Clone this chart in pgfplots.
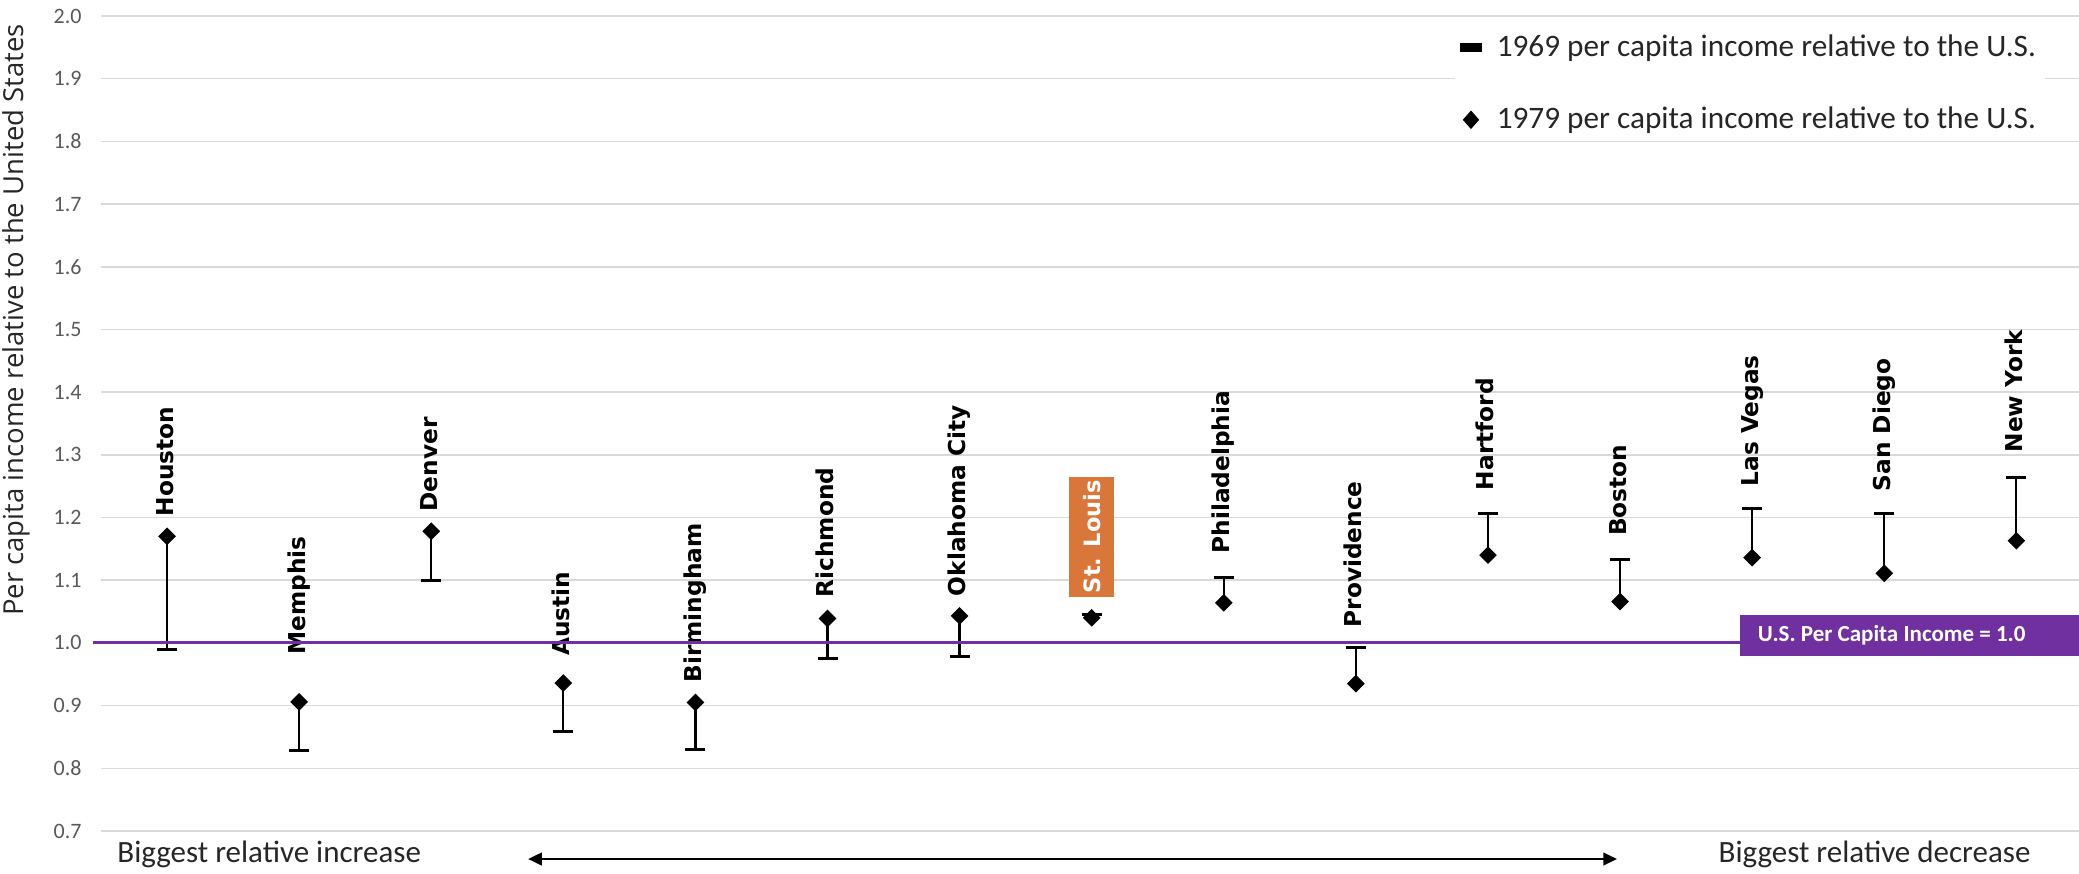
\documentclass[border=0pt]{standalone}
\usepackage{pgfplots}
\pgfplotsset{compat=1.18}
\usepackage{fontspec}
\setmainfont{Carlito}
\newfontfamily\dvs{DejaVu Sans}
\newfontfamily\osans{Open Sans}
\usetikzlibrary{arrows.meta}
\definecolor{usp}{HTML}{7030A0}
\definecolor{stl}{HTML}{D9773A}
\definecolor{gridc}{HTML}{D9D9D9}
\definecolor{tickc}{HTML}{595959}
\definecolor{txt}{HTML}{262626}
\begin{document}
\begin{tikzpicture}
\begin{axis}[
  scale only axis, width=791.5pt, height=326pt,
  xmin=-0.5, xmax=14.48, ymin=0.7, ymax=2.0,
  clip=false,
  axis line style={draw=none},
  xtick=\empty,
  ytick={0.7,0.8,0.9,1.0,1.1,1.2,1.3,1.4,1.5,1.6,1.7,1.8,1.9,2.0},
  ymajorgrids, major grid style={gridc, line width=0.6pt},
  major tick length=0pt, tick style={draw=none},
  yticklabel style={font=\fontsize{8.8}{9}\selectfont, text=tickc, inner sep=0pt, xshift=-7.6pt},
  /pgf/number format/.cd, fixed, fixed zerofill, precision=1, assume math mode=true,
  /pgfplots/.cd,
  ylabel={Per capita income relative to the United States},
  ylabel style={at={(axis description cs:-0.043,0.627)}, anchor=center, font=\osans\fontsize{11}{12}\selectfont, text=txt},
  legend style={draw=none, fill=white, at={(axis description cs:0.6840,0.9885)}, anchor=north west,
    font=\fontsize{12.5}{14}\selectfont, text=txt, row sep=15.8pt, inner sep=2pt,
    nodes={inner sep=1.5pt}},
  legend cell align=left,
]
% 1969 values with connecting bars to 1979 values
\addplot[black, only marks, mark=-, mark size=4pt, mark options={line width=1.2pt, black},
  legend image code/.code={\path[draw=none, fill=none] (0pt,0pt) -- (13pt,0pt); \fill[black] (0pt,-1.6pt) rectangle (8.4pt,1.6pt);},
  error bars/.cd, y dir=both, y explicit, error mark=none,
  error bar style={line width=0.9pt, black}]
coordinates {
 (0,0.990) += (0,0.180) -= (0,0)
 (1,0.828) += (0,0.078) -= (0,0)
 (2,1.099) += (0,0.079) -= (0,0)
 (3,0.859) += (0,0.077) -= (0,0)
 (4,0.830) += (0,0.075) -= (0,0)
 (5,0.975) += (0,0.064) -= (0,0)
 (6,0.979) += (0,0.064) -= (0,0)
 (7,1.045) += (0,0) -= (0,0.005)
 (8,1.105) += (0,0) -= (0,0.041)
 (9,0.993) += (0,0) -= (0,0.058)
 (10,1.207) += (0,0) -= (0,0.067)
 (11,1.133) += (0,0) -= (0,0.067)
 (12,1.214) += (0,0) -= (0,0.078)
 (13,1.206) += (0,0) -= (0,0.095)
 (14,1.264) += (0,0) -= (0,0.101)
};
\addlegendentry{1969 per capita income relative to the U.S.}
% 1979 values
\addplot[black, only marks, mark=square*, mark size=2.3pt, mark options={rotate=45, black},
  legend image code/.code={\path[draw=none, fill=none] (0pt,0pt) -- (13pt,0pt); \fill[black] (4.2pt,3.4pt) -- (7.2pt,0pt) -- (4.2pt,-3.4pt) -- (1.2pt,0pt) -- cycle;}]
coordinates {
 (0,1.170) (1,0.906) (2,1.178) (3,0.936) (4,0.905) (5,1.039) (6,1.043) (7,1.040)
 (8,1.064) (9,0.935) (10,1.140) (11,1.066) (12,1.136) (13,1.111) (14,1.163)
};
\addlegendentry{1979 per capita income relative to the U.S.}
% city labels
\tikzset{city/.style={rotate=90, anchor=mid west, inner sep=0pt, font=\dvs\bfseries\fontsize{9.3}{11}\selectfont}}
\node[city] at (axis cs:0,1.201) {Houston};
\node[city] at (axis cs:1,0.981) {Memphis};
\node[city] at (axis cs:2,1.209) {Denver};
\node[city] at (axis cs:3,0.979) {Austin};
\node[city] at (axis cs:4,0.936) {Birmingham};
\node[city] at (axis cs:5,1.072) {Richmond};
\node[city] at (axis cs:6,1.074) {Oklahoma City};
\node[rotate=90, anchor=west, inner sep=0pt, fill=stl, text=white, minimum width=48pt, minimum height=18pt,
  font=\dvs\bfseries\fontsize{9}{11}\selectfont] at (axis cs:7,1.073) {St. Louis};
\node[city] at (axis cs:8,1.142) {Philadelphia};
\node[city] at (axis cs:9,1.024) {Providence};
\node[city] at (axis cs:10,1.243) {Hartford};
\node[city] at (axis cs:11,1.170) {Boston};
\node[city] at (axis cs:12,1.249) {Las Vegas};
\node[city] at (axis cs:13,1.241) {San Diego};
\node[city] at (axis cs:14,1.303) {New York};
% U.S. reference line
\addplot[usp, line width=1.2pt, forget plot] coordinates {(-0.56,1.0) (14.48,1.0)};
\fill[usp] (axis cs:11.91,0.979) rectangle (axis cs:14.48,1.0445);
\node[anchor=west, inner sep=0pt, text=white, font=\bfseries\fontsize{9.2}{11}\selectfont]
  at (axis cs:11.91,1.012) [xshift=6.8pt] {U.S. Per Capita Income = 1.0};
% bottom annotations
\node[anchor=base west, inner sep=0pt, text=txt, font=\fontsize{12.4}{14}\selectfont] at (axis cs:-0.379,0.649) {Biggest relative increase};
\node[anchor=base east, inner sep=0pt, text=txt, font=\fontsize{12.4}{14}\selectfont] at (axis cs:14.11,0.649) {Biggest relative decrease};
\draw[black, line width=1pt, {Triangle[length=5.5pt,width=5pt]}-{Triangle[length=5.5pt,width=5pt]}] (axis cs:2.733,0.6553) -- (axis cs:10.977,0.6553);
\end{axis}
\pgfresetboundingbox
\path (current axis.south west) ++(-40.4pt,-17.2pt) rectangle ++(831.6pt,349.6pt);
\end{tikzpicture}
\end{document}
